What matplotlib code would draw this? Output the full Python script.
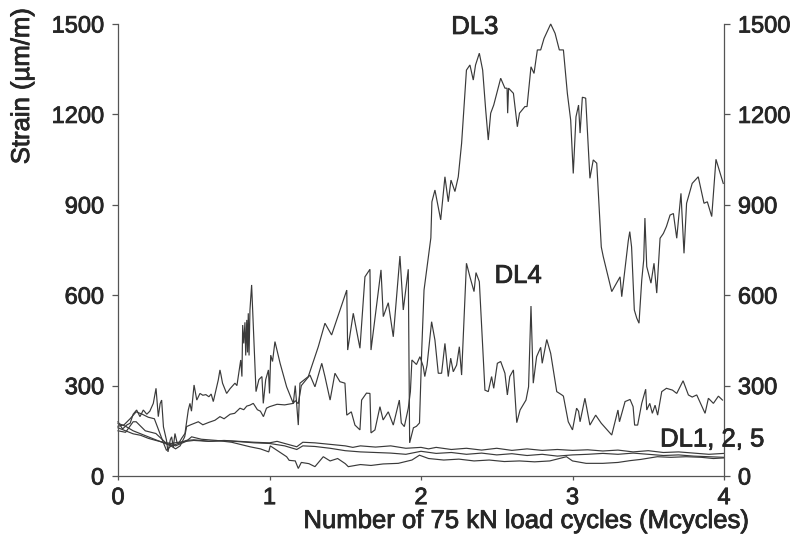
import matplotlib
matplotlib.use("Agg")
import matplotlib.pyplot as plt
import matplotlib.patheffects as pe

plt.rcParams['font.family'] = ['Liberation Sans', 'DejaVu Sans']

# Strain histories of the five gauges versus load cycles (Mcycles, um/m)
dl3_x = [0.00, 0.03, 0.06, 0.08, 0.10, 0.123, 0.145, 0.167, 0.19, 0.21, 0.233, 0.251, 0.266, 0.278,
         0.288, 0.30, 0.32, 0.33, 0.345, 0.354, 0.365, 0.376, 0.39, 0.40, 0.42, 0.442, 0.464, 0.475,
         0.485, 0.502, 0.52, 0.541, 0.56, 0.58, 0.60, 0.615, 0.629, 0.662, 0.673, 0.68, 0.69, 0.717,
         0.74, 0.772, 0.785, 0.80, 0.81, 0.818, 0.823, 0.83, 0.838, 0.843, 0.85, 0.855, 0.86, 0.865,
         0.871, 0.882, 0.911, 0.93, 0.95, 0.959, 0.975, 0.993, 1.0, 1.008, 1.02, 1.036, 1.07, 1.113,
         1.157, 1.17, 1.19, 1.201, 1.256, 1.322, 1.366, 1.41, 1.51, 1.516, 1.553, 1.597, 1.63, 1.663,
         1.67, 1.736, 1.751, 1.784, 1.817, 1.861, 1.883, 1.916, 1.925, 1.95, 1.97, 1.99, 2.005, 2.02,
         2.04, 2.065, 2.072, 2.092, 2.13, 2.158, 2.18, 2.198, 2.224, 2.246, 2.268, 2.30, 2.323, 2.345,
         2.36, 2.385, 2.407, 2.427, 2.444, 2.46, 2.48, 2.526, 2.554, 2.568, 2.572, 2.578, 2.61, 2.636,
         2.65, 2.686, 2.70, 2.726, 2.746, 2.768, 2.79, 2.812, 2.856, 2.885, 2.913, 2.94, 2.966, 2.988,
         3.005, 3.023, 3.04, 3.05, 3.065, 3.087, 3.115, 3.137, 3.16, 3.19, 3.203, 3.259, 3.314, 3.325,
         3.368, 3.378, 3.39, 3.408, 3.424, 3.439, 3.457, 3.47, 3.478, 3.49, 3.518, 3.538, 3.556, 3.578,
         3.60, 3.62, 3.644, 3.666, 3.688, 3.716, 3.736, 3.753, 3.79, 3.83, 3.868, 3.89, 3.919, 3.947,
         3.995]
dl3_y = [180, 156, 170, 175, 205, 219, 197, 219, 205, 215, 241, 291, 197, 240,
         252, 163, 119, 80, 120, 130, 95, 141, 110, 108, 125, 141, 219, 241,
         215, 302, 252, 274, 268, 270, 263, 272, 247, 319, 352, 335, 308, 274,
         290, 308, 300, 352, 385, 330, 501, 440, 510, 400, 518, 410, 540, 400,
         551, 634, 280, 320, 330, 241, 320, 352, 274, 401, 380, 446, 374, 296,
         241, 300, 169, 308, 330, 429, 507, 468, 617, 418, 540, 424, 661, 686,
         418, 684, 529, 575, 462, 730, 551, 686, 110, 160, 165, 176, 420, 617,
         695, 790, 910, 949, 850, 993, 910, 982, 944, 993, 1104, 1347, 1364, 1314,
         1364, 1403, 1347, 1215, 1115, 1204, 1231, 1320, 1287, 1287, 1204, 1287, 1270, 1159,
         1204, 1226, 1226, 1358, 1336, 1414, 1414, 1452, 1500, 1469, 1414, 1414, 1270, 1181,
         1004, 1192, 1231, 1138, 1257, 1254, 988, 1049, 1038, 760, 728, 612, 661, 595,
         780, 811, 760, 551, 524, 507, 650, 717, 856, 695, 640, 706, 607, 789,
         805, 828, 866, 871, 789, 938, 739, 905, 971, 993, 905, 910, 861, 1051,
         971]

dl4_x = [0.00, 0.04, 0.08, 0.12, 0.16, 0.20, 0.24, 0.27, 0.30, 0.32, 0.35, 0.38, 0.41, 0.44,
         0.453, 0.48, 0.53, 0.56, 0.60, 0.64, 0.673, 0.70, 0.74, 0.77, 0.805, 0.83, 0.85, 0.87,
         0.893, 0.92, 0.94, 0.96, 0.98, 1.0, 1.05, 1.10, 1.157, 1.17, 1.19, 1.21, 1.267, 1.30,
         1.345, 1.366, 1.40, 1.432, 1.465, 1.498, 1.51, 1.54, 1.564, 1.597, 1.608, 1.64, 1.663, 1.67,
         1.696, 1.729, 1.75, 1.784, 1.817, 1.857, 1.87, 1.89, 1.916, 1.93, 1.94, 1.97, 1.993, 2.015,
         2.025, 2.04, 2.07, 2.092, 2.114, 2.136, 2.158, 2.18, 2.196, 2.213, 2.235, 2.253, 2.268, 2.30,
         2.323, 2.35, 2.363, 2.385, 2.422, 2.444, 2.466, 2.48, 2.504, 2.526, 2.554, 2.57, 2.586, 2.61,
         2.632, 2.654, 2.693, 2.71, 2.726, 2.741, 2.763, 2.79, 2.80, 2.83, 2.856, 2.896, 2.93, 2.94,
         2.972, 3.0, 3.027, 3.04, 3.05, 3.082, 3.115, 3.153, 3.19, 3.259, 3.30, 3.31, 3.347, 3.38,
         3.40, 3.41, 3.43, 3.457, 3.483, 3.49, 3.51, 3.527, 3.545, 3.562, 3.589, 3.62, 3.66, 3.688,
         3.73, 3.765, 3.79, 3.82, 3.875, 3.897, 3.93, 3.963, 3.99]
dl4_y = [165, 170, 190, 213, 205, 195, 190, 150, 110, 85, 100, 90, 100, 130,
         164, 170, 180, 170, 178, 185, 197, 190, 205, 208, 225, 220, 232, 235,
         241, 220, 215, 197, 225, 230, 238, 236, 241, 250, 240, 300, 335, 296,
         374, 330, 252, 341, 313, 308, 202, 213, 169, 153, 252, 275, 274, 143,
         153, 230, 186, 213, 169, 252, 176, 164, 225, 280, 385, 370, 396, 363,
         330, 368, 512, 451, 341, 341, 440, 330, 391, 346, 368, 429, 335, 706,
         661, 612, 675, 645, 285, 280, 330, 291, 374, 380, 341, 269, 330, 352,
         177, 219, 252, 296, 564, 308, 396, 427, 374, 453, 407, 280, 269, 265,
         180, 153, 225, 215, 180, 258, 169, 202, 175, 136, 219, 180, 247, 254,
         230, 169, 169, 241, 288, 219, 241, 208, 235, 202, 280, 291, 285, 274,
         316, 269, 262, 269, 208, 258, 241, 265, 252]

dl1_x = [0.0, 0.05, 0.10, 0.15, 0.20, 0.25, 0.30, 0.35, 0.40, 0.45, 0.50, 0.55, 0.60, 0.70,
         0.80, 0.90, 1.0, 1.05, 1.10, 1.18, 1.22, 1.30, 1.40, 1.50, 1.55, 1.60, 1.70, 1.80,
         1.90, 2.0, 2.05, 2.10, 2.20, 2.30, 2.40, 2.50, 2.60, 2.70, 2.80, 2.90, 3.0, 3.10,
         3.20, 3.30, 3.40, 3.50, 3.60, 3.70, 3.80, 3.90, 4.0]
dl1_y = [175, 165, 150, 140, 130, 120, 110, 100, 108, 118, 120, 118, 115, 118,
         115, 112, 110, 115, 108, 97, 112, 110, 105, 100, 95, 100, 96, 100,
         92, 95, 90, 95, 88, 92, 86, 92, 85, 90, 85, 88, 85, 87,
         83, 86, 80, 84, 78, 80, 76, 72, 75]

dl2_x = [0.0, 0.05, 0.10, 0.15, 0.20, 0.25, 0.30, 0.35, 0.40, 0.45, 0.50, 0.60, 0.70, 0.80,
         0.90, 1.0, 1.05, 1.10, 1.18, 1.22, 1.30, 1.40, 1.50, 1.60, 1.70, 1.80, 1.90, 2.0,
         2.10, 2.20, 2.30, 2.40, 2.50, 2.60, 2.70, 2.80, 2.90, 3.0, 3.10, 3.20, 3.30, 3.40,
         3.50, 3.60, 3.70, 3.80, 3.90, 4.0]
dl2_y = [160, 150, 140, 135, 125, 118, 112, 108, 112, 115, 118, 115, 117, 114,
         110, 108, 104, 100, 88, 100, 98, 92, 84, 80, 78, 76, 72, 82,
         75, 78, 72, 76, 70, 74, 68, 72, 66, 70, 72, 75, 72, 76,
         72, 68, 70, 66, 64, 62]

dl5_x = [0.0, 0.05, 0.10, 0.12, 0.18, 0.25, 0.32, 0.38, 0.45, 0.486, 0.55, 0.65, 0.75, 0.871,
         0.94, 0.995, 1.005, 1.05, 1.113, 1.13, 1.17, 1.19, 1.21, 1.26, 1.30, 1.355, 1.40, 1.45,
         1.50, 1.52, 1.60, 1.67, 1.75, 1.85, 1.94, 1.99, 2.05, 2.15, 2.25, 2.35, 2.45, 2.55,
         2.65, 2.75, 2.85, 2.96, 3.0, 3.09, 3.20, 3.30, 3.38, 3.45, 3.56, 3.65, 3.75, 3.85,
         3.93, 4.0]
dl5_y = [150, 145, 180, 180, 150, 141, 108, 100, 115, 130, 122, 118, 112, 97,
         90, 80, 100, 85, 64, 52, 50, 25, 45, 41, 31, 64, 50, 58,
         41, 31, 38, 35, 40, 42, 53, 69, 58, 53, 56, 50, 53, 48,
         50, 47, 50, 64, 50, 42, 42, 45, 51, 55, 64, 62, 64, 62,
         58, 60]

series = [(dl1_x, dl1_y), (dl2_x, dl2_y), (dl5_x, dl5_y), (dl4_x, dl4_y), (dl3_x, dl3_y)]

x_ticks = [0, 1, 2, 3, 4]
y_ticks = [0, 300, 600, 900, 1200, 1500]

W, H = 799, 537
fig = plt.figure(figsize=(W / 100, H / 100), dpi=100)
ax = fig.add_axes([118 / W, 61 / H, 606 / W, 452 / H])

ink = '#3a3a3a'
text_ink = '#262626'
heavy = [pe.withStroke(linewidth=0.6, foreground=text_ink)]

for xs, ys in series:
    ax.plot(xs, ys, color=ink, lw=0.85, clip_on=False, solid_joinstyle='miter')

ax.set_xlim(0, 4)
ax.set_ylim(0, 1500)
ax.set_xticks(x_ticks)
ax.set_yticks(y_ticks)
ax.set_xticklabels([str(v) for v in x_ticks])
ax.set_yticklabels([str(v) for v in y_ticks])

ax.spines['top'].set_visible(False)
for side in ('left', 'right', 'bottom'):
    ax.spines[side].set_color('#555555')
    ax.spines[side].set_linewidth(0.9)

ax.tick_params(axis='y', left=True, right=True, labelleft=True, labelright=True,
               direction='out', length=4, width=0.9, pad=6, labelsize=17,
               color='#555555', labelcolor=text_ink)
ax.tick_params(axis='x', direction='out', length=3, width=0.9, pad=5, labelsize=17,
               color='#555555', labelcolor=text_ink)

for tick in ax.xaxis.get_major_ticks() + ax.yaxis.get_major_ticks():
    tick.label1.set_path_effects(heavy)
    tick.label2.set_path_effects(heavy)

label_size = 18.5
ax.text(2.356, 1467, 'DL3', ha='center', va='baseline', fontsize=label_size,
        color=text_ink, path_effects=heavy)
ax.text(2.642, 641, 'DL4', ha='center', va='baseline', fontsize=label_size,
        color=text_ink, path_effects=heavy)
ax.text(3.578, 98, 'DL1, 2, 5', ha='left', va='baseline', fontsize=label_size,
        color=text_ink, path_effects=heavy)

fig.text(527 / W, (H - 528) / H, 'Number of 75 kN load cycles (Mcycles)',
         ha='center', va='baseline', fontsize=label_size, color=text_ink, path_effects=heavy)
fig.text(22 / W, (H - 86) / H, 'Strain (\u00b5m/m)', rotation=90,
         ha='center', va='center', fontsize=label_size, color=text_ink, path_effects=heavy)

fig.savefig('out.png', dpi=100)
